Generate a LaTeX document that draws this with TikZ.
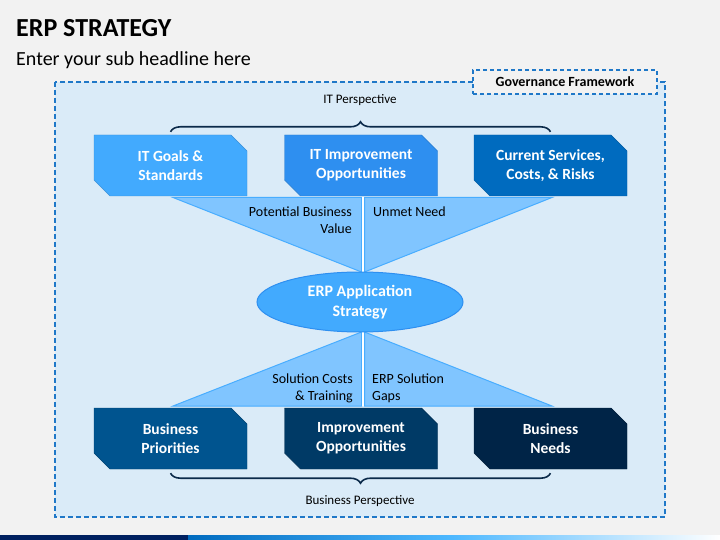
\documentclass[tikz,border=0pt]{standalone}
\usepackage{fontspec}
\setmainfont{Carlito}
\usetikzlibrary{shapes.geometric,shapes.misc,decorations.pathreplacing}
\definecolor{bggray}{HTML}{F2F2F2}
\definecolor{panelblue}{HTML}{DAEBF8}
\definecolor{dashblue}{HTML}{1F78C8}
\definecolor{boxa}{HTML}{42AAFE}
\definecolor{boxb}{HTML}{2E8FF0}
\definecolor{boxc}{HTML}{006BBF}
\definecolor{boxd}{HTML}{00548F}
\definecolor{boxe}{HTML}{003A66}
\definecolor{boxf}{HTML}{002447}
\definecolor{trifill}{HTML}{80C5FF}
\definecolor{triedge}{HTML}{48ADFF}
\definecolor{bracenavy}{HTML}{0B2A4A}
\definecolor{barnavy}{HTML}{002060}
\tikzset{
  stepbox/.style={chamfered rectangle,chamfered rectangle corners={north east,south west},
    chamfered rectangle xsep=8pt,chamfered rectangle ysep=8pt,
    minimum width=153pt,minimum height=61pt,inner sep=0pt,align=center,
    text=white,font=\fontsize{15.5}{19.3}\selectfont\bfseries},
  tri/.style={fill=trifill,draw=triedge,line width=1pt},
  note/.style={inner sep=0pt,font=\fontsize{14}{16.7}\selectfont},
  persp/.style={inner sep=0pt,font=\fontsize{13}{16}\selectfont},
  curly/.style={draw=bracenavy,line width=1.6pt,decorate,decoration={brace,amplitude=10pt}},
}
\begin{document}
\begin{tikzpicture}[x=1pt,y=-1pt]
\useasboundingbox (0,0) rectangle (720,540);
\fill[bggray] (0,0) rectangle (720,540);				%background
\fill[barnavy] (0,535) rectangle (188,540);			%bottom bar
\shade[left color=boxc,right color=cyan!60!blue!70] (188,535) rectangle (450,540);
\shade[left color=cyan!60!blue!70,right color=white] (450,535) rectangle (720,540);
\node[anchor=base west,inner sep=0pt,font=\fontsize{26}{30}\selectfont\bfseries] (title) at (16,37) {ERP STRATEGY};
\node[anchor=base west,inner sep=0pt,font=\fontsize{20}{24}\selectfont] (subtitle) at (16,66) {Enter your sub headline here};
\draw[fill=panelblue,draw=dashblue,line width=1.5pt,dash pattern=on 5pt off 3pt] (55,82) rectangle (665,517);	%governance frame
\node[fill=bggray,draw=dashblue,line width=1.2pt,dash pattern=on 4pt off 3pt,minimum width=184pt,minimum height=24pt,
  font=\fontsize{14}{17}\selectfont\bfseries] (gov) at (565,82) {Governance Framework};
\node[persp] (itp) at (360,100) {IT Perspective};
\node[persp] (bizp) at (360,501) {Business Perspective};
% top row
\node[stepbox,fill=boxa,draw=boxa!85!black,thin] (itgoals) at (170.5,165.5) {IT Goals \&\\Standards};
\node[stepbox,fill=boxb,draw=boxb!85!black,thin] (itimpr) at (361,165.5) {IT Improvement\\Opportunities};
\node[stepbox,fill=boxc,draw=boxc!85!black,thin] (itrisks) at (550.5,165.5) {Current Services,\\Costs, \& Risks};
% bottom row
\node[stepbox,fill=boxd,draw=boxd!80!black,thin] (bizprio) at (170.5,438.5) {Business\\Priorities};
\node[stepbox,fill=boxe,draw=boxe!80!black,thin] (bizimpr) at (361,438.5) {Improvement\\Opportunities};
\node[stepbox,fill=boxf,draw=boxf!80!black,thin] (bizneeds) at (550.5,438.5) {Business\\Needs};
% braces
\draw[curly] ([yshift=3pt]itgoals.north) -- ([yshift=3pt]itrisks.north);
\draw[curly,decoration={mirror}] ([yshift=-4pt]bizprio.south) -- ([yshift=-4pt]bizneeds.south);
% funnels
\path[tri] (173,197.5) -- (361.5,197.5) -- (361.5,272) -- cycle;
\path[tri] (364.5,197.5) -- (552,197.5) -- (364.5,272) -- cycle;
\path[tri] (361.5,332) -- (361.5,406) -- (173,406) -- cycle;
\path[tri] (364.5,332) -- (364.5,406) -- (552,406) -- cycle;
\draw[white,line width=1.5pt] (363,197.5) -- (363,272);
\draw[white,line width=1.5pt] (363,332) -- (363,406);
\node[ellipse,fill=boxa,draw=boxb,line width=1pt,minimum width=206pt,minimum height=60pt,inner sep=0pt,
  text=white,align=center,font=\fontsize{16}{19.5}\selectfont\bfseries] (erp) at (360,302) {ERP Application\\Strategy};
% funnel labels
\node[note,anchor=north east,align=right] (potval) at (352,207) {Potential Business\\Value};
\node[note,anchor=north west,align=left] (unmet) at (373,207) {Unmet Need};
\node[note,anchor=north east,align=right] (solcost) at (353,374) {Solution Costs\\\& Training};
\node[note,anchor=north west,align=left] (solgaps) at (372,374) {ERP Solution\\Gaps};
\end{tikzpicture}
\end{document}
